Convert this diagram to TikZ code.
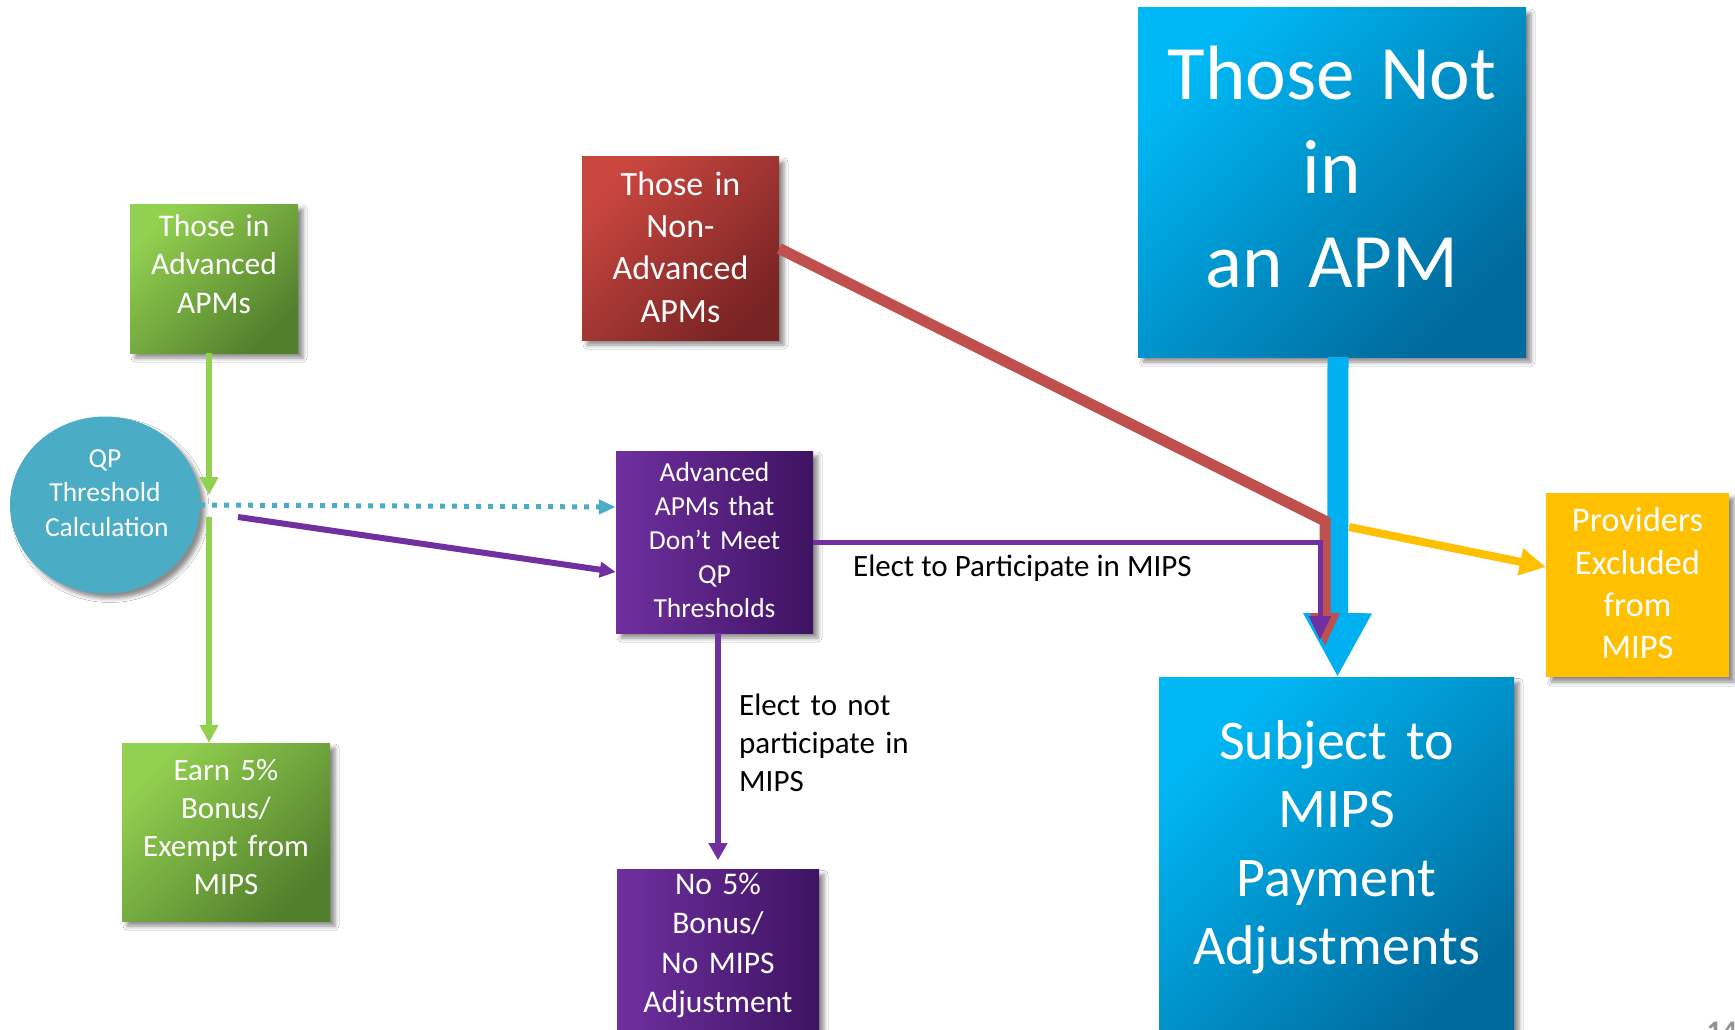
\documentclass[tikz,border=0pt]{standalone}
\usepackage{fontspec}
\setmainfont{Carlito}
\usetikzlibrary{arrows.meta, positioning, shapes.geometric, shadows.blur}

\definecolor{grnlight}{HTML}{92D050}
\definecolor{grndark}{HTML}{527F2C}
\definecolor{redlight}{HTML}{C9463F}
\definecolor{reddark}{HTML}{792424}
\definecolor{purplight}{HTML}{7030A0}
\definecolor{purpdark}{HTML}{3E1362}
\definecolor{cyanlight}{HTML}{00B8F5}
\definecolor{cyandark}{HTML}{006A9C}
\definecolor{cyanline}{HTML}{00B0F0}
\definecolor{qpblue}{HTML}{4BACC6}
\definecolor{amber}{HTML}{FFC000}
\definecolor{redline}{HTML}{C0504D}

\begin{document}
\begin{tikzpicture}[
    x=1pt, y=-1pt,
    apmbox/.style={
        rectangle,
        inner sep=0pt,
        align=center,
        text=white,
        blur shadow={shadow xshift=5pt, shadow yshift=-5pt, shadow blur radius=4pt, shadow opacity=45}
    },
    greenbox/.style={apmbox, top color=grnlight, bottom color=grndark, shading angle=45},
    redbox/.style={apmbox, top color=redlight, bottom color=reddark, shading angle=45},
    purplebox/.style={apmbox, left color=purplight, right color=purpdark},
    cyanbox/.style={apmbox, top color=cyanlight, bottom color=cyandark, shading angle=45},
    amberbox/.style={apmbox, fill=amber},
    lbl/.style={text=black, align=left, inner sep=0pt, font=\fontsize{31}{38}\selectfont},
    arrow/.style={-{Triangle[length=#1, width=#1]}}
]
\path[use as bounding box, fill=white] (0,0) rectangle (1735,1030);

% boxes
\node[greenbox, text width=168pt, text height=32pt, text depth=117pt,
      font=\fontsize{31.5}{38.7}\selectfont] (advanced) at (214,278.5) {Those in\\Advanced\\APMs};
\node[ellipse, fill=qpblue, text=white, align=center, inner sep=0pt,
      minimum width=190pt, minimum height=177pt, text width=120pt,
      text height=10pt, text depth=86pt,
      blur shadow={shadow xshift=5pt, shadow yshift=-5pt, shadow blur radius=4pt, shadow opacity=45},
      font=\fontsize{27.5}{34.5}\selectfont] (qp) at (105,505) {QP\\Threshold\\Calculation};
\node[redbox, text width=197pt, text height=38pt, text depth=145pt,
      font=\fontsize{34}{42.5}\selectfont] (nonadv) at (680.5,248.5) {Those in\\Non-\\Advanced\\APMs};
\node[purplebox, text width=197pt, text height=30pt, text depth=152pt,
      font=\fontsize{27.5}{34}\selectfont] (midapm) at (714.5,542) {Advanced\\APMs that\\Don’t Meet\\QP\\Thresholds};
\node[cyanbox, text width=388pt, text height=92pt, text depth=257pt,
      font=\fontsize{77}{94}\selectfont] (notapm) at (1332,182.5) {Those Not\\in\\an APM};
\node[cyanbox, text width=355pt, text height=82pt, text depth=286pt,
      font=\fontsize{56}{68.3}\selectfont, below=320pt of notapm, xshift=4.5pt] (mips) {Subject to\\MIPS\\Payment\\Adjustments};
\node[amberbox, text width=183pt, text height=38.7pt, text depth=145.3pt,
      font=\fontsize{34.5}{42.3}\selectfont] (excl) at (1637.5,585) {Providers\\Excluded\\from\\MIPS};
\node[greenbox, text width=208pt, text height=37pt, text depth=141pt,
      font=\fontsize{31}{38}\selectfont] (earn) at (226,832) {Earn 5\%\\Bonus/\\Exempt from\\MIPS};
\node[purplebox, text width=202pt, text height=25pt, text depth=151pt,
      font=\fontsize{31.5}{39.5}\selectfont, below=236pt of midapm, xshift=3.5pt] (nobonus) {No 5\%\\Bonus/\\No MIPS\\Adjustment};

% labels
\node[lbl, anchor=base west] (elect) at (853,576) {Elect to Participate in MIPS};
\node[lbl, anchor=base west, text width=200pt] (electnot) at (739,715) {Elect to not\\participate in\\MIPS};
\node[text=gray!85, anchor=base west, font=\fontsize{30}{36}\selectfont\bfseries] (pagenum) at (1703,1041) {14};

% bend points
\coordinate (greenmid) at (209,495);
\coordinate (greenlow) at (209,517);
\coordinate (qpout) at (238,517);
\coordinate (redbend) at (1325,521);
\coordinate (redtip) at (1325,647);
\coordinate (purptip) at (1320,640);
\coordinate (amberout) at (1349,527);

% connectors
\draw[grnlight, line width=6pt, arrow=18pt] (advanced.south -| greenmid) -- (greenmid);
\draw[grnlight, line width=6pt, arrow=18pt] (greenlow) -- (earn.north -| greenlow);
\draw[qpblue, line width=5pt, dash pattern=on 5pt off 7pt, -{Triangle[length=17pt, width=14pt]}] (qp.east) -- ([yshift=35pt]midapm.west);
\draw[purplight, line width=6pt, -{Triangle[length=16pt, width=15pt]}] (qpout) -- ([yshift=-30pt]midapm.west);
\draw[purplight, line width=5.5pt, -{Triangle[length=17pt, width=18pt]}] (midapm.south -| nobonus.north) -- ([yshift=9pt]nobonus.north);
\draw[cyanline, line width=21pt, arrow=64pt] ([xshift=6pt]notapm.south) -- ([xshift=1pt]mips.north);
\draw[redline, line width=11pt, -{Triangle[length=34pt, width=27pt]}] (nonadv.east) -- (redbend) -- (redtip);
\draw[purplight, line width=5pt, -{Triangle[length=24pt, width=21pt]}] (midapm.east) -| (purptip);
\draw[amber, line width=8pt, arrow=26pt] (amberout) -- ([yshift=18pt]excl.west);
\end{tikzpicture}
\end{document}
